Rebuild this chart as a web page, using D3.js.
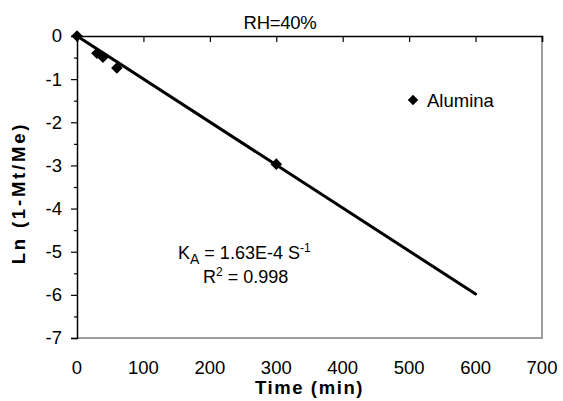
<!DOCTYPE html>
<html>
<head>
<meta charset="utf-8">
<script src="https://cdn.jsdelivr.net/npm/d3@7"></script>
<style>
  body { margin: 0; background: #fff; }
  text { font-family: "Liberation Sans", Arial, sans-serif; fill: #000; }
</style>
</head>
<body>
<div id="chart"></div>
<script>
// measured points (Alumina, RH=40%)
const timeMin = [0, 30, 39, 60, 300];
const lnValues = [0, -0.40, -0.49, -0.74, -2.97];

// fitted line end points
const fitTime = [0, 600];
const fitLn = [0, -5.98];

const xTicks = [0, 100, 200, 300, 400, 500, 600, 700];
const yTicks = [0, -1, -2, -3, -4, -5, -6, -7];
const yMinorTicks = [-0.5, -1.5, -2.5, -3.5, -4.5, -5.5, -6.5];

const cfg = {
    WIDTH: 563,
    HEIGHT: 401,
    LEFT: 77,
    RIGHT: 542,
    TOP: 36,
    BOTTOM: 338,
};

const svg = d3.select('#chart')
    .append('svg')
    .attr('width', cfg.WIDTH)
    .attr('height', cfg.HEIGHT);

const x = d3.scaleLinear().domain([0, 700]).range([cfg.LEFT, cfg.RIGHT]);
const y = d3.scaleLinear().domain([-7, 0]).range([cfg.BOTTOM, cfg.TOP]);

// plot area border (grey) on right and bottom
svg.append('path')
    .attr('d', `M${cfg.LEFT},${cfg.BOTTOM}H${cfg.RIGHT}V${cfg.TOP}`)
    .attr('fill', 'none')
    .attr('stroke', '#808080')
    .attr('stroke-width', 1.5);

// x axis sits at y = 0 (the top), ticks point inside, labels go at the bottom
const xAxis = svg.append('g')
    .attr('transform', `translate(0,${y(0)})`)
    .call(d3.axisBottom(x).tickValues(xTicks).tickSize(6).tickFormat(''));
xAxis.select('.domain').attr('stroke', '#000').attr('stroke-width', 1.5);
xAxis.selectAll('.tick line').attr('stroke', '#000').attr('stroke-width', 1.2);

svg.append('g')
    .selectAll('text')
    .data(xTicks)
    .join('text')
    .attr('x', d => x(d))
    .attr('y', 374)
    .attr('text-anchor', 'middle')
    .style('font-size', '18.5px')
    .text(d => d);

// y axis
const yAxis = svg.append('g')
    .attr('transform', `translate(${cfg.LEFT},0)`)
    .call(d3.axisLeft(y).tickValues(yTicks).tickSize(6).tickPadding(9)
        .tickFormat(d => d3.format('d')(d).replace('−', '-')));
yAxis.select('.domain').attr('stroke', '#000').attr('stroke-width', 1.5);
yAxis.selectAll('.tick line').attr('stroke', '#000').attr('stroke-width', 1.2);
yAxis.selectAll('.tick text')
    .style('font-size', '18.5px')
    .style('font-family', '"Liberation Sans", Arial, sans-serif')
    .attr('fill', '#000');

const yMinor = svg.append('g')
    .attr('transform', `translate(${cfg.LEFT},0)`)
    .call(d3.axisLeft(y).tickValues(yMinorTicks).tickSize(3).tickFormat(''));
yMinor.select('.domain').remove();
yMinor.selectAll('.tick line').attr('stroke', '#000').attr('stroke-width', 1.2);

// fitted line
const fitData = fitTime.map((t, i) => [t, fitLn[i]]);
svg.append('path')
    .datum(fitData)
    .attr('d', d3.line().x(d => x(d[0])).y(d => y(d[1])))
    .attr('fill', 'none')
    .attr('stroke', '#000')
    .attr('stroke-width', 3)
    .attr('stroke-linecap', 'round');

// data points (diamonds)
const diamond = d3.symbol().type(d3.symbolDiamond2).size(85);
svg.append('g')
    .selectAll('path')
    .data(timeMin.map((t, i) => [t, lnValues[i]]))
    .join('path')
    .attr('transform', d => `translate(${x(d[0])},${y(d[1])})`)
    .attr('d', diamond)
    .attr('fill', '#000');

// legend
svg.append('path')
    .attr('transform', 'translate(413,100)')
    .attr('d', d3.symbol().type(d3.symbolDiamond2).size(70))
    .attr('fill', '#000');
svg.append('text')
    .attr('x', 427)
    .attr('y', 107)
    .style('font-size', '18.5px')
    .text('Alumina');

// title
svg.append('text')
    .attr('x', 280)
    .attr('y', 29)
    .attr('text-anchor', 'middle')
    .style('font-size', '18.5px')
    .style('letter-spacing', '-0.3px')
    .text('RH=40%');

// annotation
const kText = svg.append('text')
    .attr('x', 178)
    .attr('y', 259)
    .style('font-size', '18px');
kText.append('tspan').text('K');
kText.append('tspan').attr('dy', 5).style('font-size', '14px').text('A');
kText.append('tspan').attr('dy', -5).text(' = 1.63E-4 S');
kText.append('tspan').attr('dy', -7).style('font-size', '12px').text('-1');

const rText = svg.append('text')
    .attr('x', 203)
    .attr('y', 283)
    .style('font-size', '18px');
rText.append('tspan').text('R');
rText.append('tspan').attr('dy', -7).style('font-size', '12px').text('2');
rText.append('tspan').attr('dy', 7).text(' = 0.998');

// axis titles
svg.append('text')
    .attr('x', (cfg.LEFT + cfg.RIGHT) / 2)
    .attr('y', 394)
    .attr('text-anchor', 'middle')
    .style('font-size', '18.5px')
    .style('font-weight', 'bold')
    .style('letter-spacing', '1.6px')
    .text('Time (min)');

svg.append('text')
    .attr('transform', 'translate(25,193) rotate(-90)')
    .attr('text-anchor', 'middle')
    .style('font-size', '18.5px')
    .style('font-weight', 'bold')
    .style('letter-spacing', '2.8px')
    .text('Ln (1-Mt/Me)');
</script>
</body>
</html>
